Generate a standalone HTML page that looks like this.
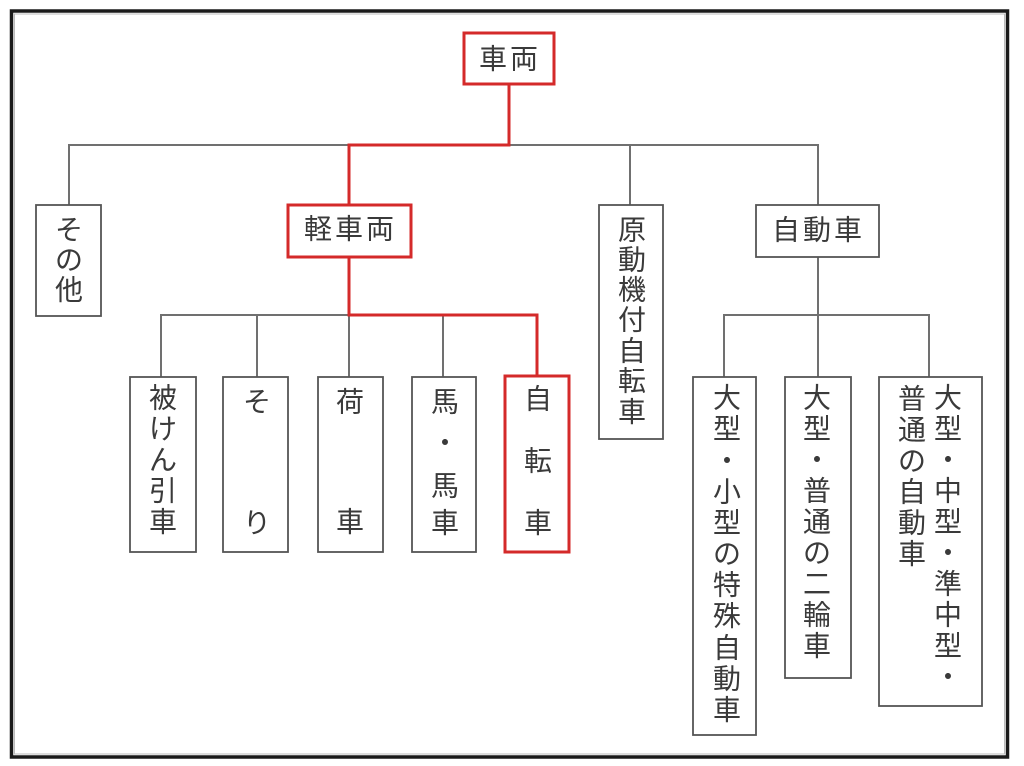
<!DOCTYPE html>
<html><head><meta charset="utf-8"><style>
html,body{margin:0;padding:0;background:#fff;}
svg{display:block;}
text{font-family:"Liberation Sans","Noto Sans CJK JP",sans-serif;font-size:28px;fill:#3a3a3a;text-anchor:middle;dominant-baseline:central;}
</style></head><body>
<svg width="1024" height="766" viewBox="0 0 1024 766" xmlns="http://www.w3.org/2000/svg">
<rect x="0" y="0" width="1024" height="766" fill="#fff"/>
<!-- outer frame -->
<rect x="11.5" y="11" width="996" height="746" fill="none" stroke="#1a1a1a" stroke-width="3.5"/>
<rect x="14.5" y="14" width="990" height="740" fill="none" stroke="#bbb" stroke-width="1"/>

<!-- gray connectors -->
<g stroke="#707070" stroke-width="2" fill="none">
<polyline points="69,205 69,145 349,145"/>
<polyline points="509,145 818,145 818,205"/>
<line x1="630" y1="145" x2="630" y2="205"/>
<polyline points="161,377 161,315 349,315"/>
<line x1="257" y1="315" x2="257" y2="377"/>
<line x1="349" y1="315" x2="349" y2="377"/>
<line x1="443" y1="315" x2="443" y2="377"/>
<line x1="818" y1="257" x2="818" y2="377"/>
<polyline points="724,377 724,315 929,315 929,377"/>
</g>

<!-- red connectors -->
<g stroke="#d42a2a" stroke-width="3" fill="none">
<polyline points="509,84 509,145 349,145 349,205"/>
<polyline points="349,257 349,315 537,315 537,376"/>
</g>

<!-- gray boxes -->
<g stroke="#555" stroke-width="1.8" fill="#fff">
<rect x="36" y="205" width="65" height="111"/>
<rect x="599" y="205" width="64" height="234"/>
<rect x="756" y="205" width="123" height="52"/>
<rect x="130" y="377" width="66" height="175"/>
<rect x="223" y="377" width="65" height="175"/>
<rect x="318" y="377" width="65" height="175"/>
<rect x="412" y="377" width="64" height="175"/>
<rect x="693" y="377" width="63" height="358"/>
<rect x="785" y="377" width="66" height="301"/>
<rect x="879" y="377" width="103" height="329"/>
</g>

<!-- red boxes -->
<g stroke="#d42a2a" stroke-width="3" fill="#fff">
<rect x="464" y="33" width="90" height="51"/>
<rect x="288" y="205" width="123" height="52"/>
<rect x="505" y="376" width="64" height="176"/>
</g>

<!-- horizontal labels -->
<text x="493" y="59">車</text><text x="524" y="59">両</text>
<text x="318" y="229">軽</text><text x="349" y="229">車</text><text x="380" y="229">両</text>
<text x="786" y="230">自</text><text x="817" y="230">動</text><text x="848" y="230">車</text>

<!-- その他 -->
<text x="69" y="230">そ</text><text x="69" y="260">の</text><text x="69" y="290">他</text>

<!-- 原動機付自転車 -->
<text x="632" y="230">原</text><text x="632" y="260">動</text><text x="632" y="290">機</text><text x="632" y="320">付</text><text x="632" y="351">自</text><text x="632" y="381">転</text><text x="632" y="412">車</text>

<!-- 被けん引車 -->
<text x="163" y="398">被</text><text x="163" y="429">け</text><text x="163" y="460">ん</text><text x="163" y="491">引</text><text x="163" y="522">車</text>
<!-- そり -->
<text x="257" y="402">そ</text><text x="257" y="523">り</text>
<!-- 荷車 -->
<text x="350" y="402">荷</text><text x="350" y="522">車</text>
<!-- 馬・馬車 -->
<text x="445" y="402">馬</text><text x="445" y="443">・</text><text x="445" y="486">馬</text><text x="445" y="523">車</text>
<!-- 自転車 -->
<text x="538" y="399">自</text><text x="538" y="461">転</text><text x="538" y="523">車</text>

<!-- 大型・小型の特殊自動車 -->
<text x="727" y="398">大</text><text x="727" y="429">型</text><text x="727" y="461">・</text><text x="727" y="492">小</text><text x="727" y="523">型</text><text x="727" y="554">の</text><text x="727" y="585">特</text><text x="727" y="616">殊</text><text x="727" y="648">自</text><text x="727" y="679">動</text><text x="727" y="710">車</text>

<!-- 大型・普通の二輪車 -->
<text x="817" y="398">大</text><text x="817" y="429">型</text><text x="817" y="460">・</text><text x="817" y="491">普</text><text x="817" y="522">通</text><text x="817" y="553">の</text><text x="817" y="584">二</text><text x="817" y="615">輪</text><text x="817" y="646">車</text>

<!-- 大型・中型・準中型・ / 普通の自動車 -->
<text x="948" y="398">大</text><text x="948" y="429">型</text><text x="948" y="460">・</text><text x="948" y="491">中</text><text x="948" y="522">型</text><text x="948" y="553">・</text><text x="948" y="584">準</text><text x="948" y="615">中</text><text x="948" y="646">型</text><text x="948" y="677">・</text>
<text x="912" y="399">普</text><text x="912" y="430">通</text><text x="912" y="461">の</text><text x="912" y="492">自</text><text x="912" y="523">動</text><text x="912" y="554">車</text>
</svg>
</body></html>
